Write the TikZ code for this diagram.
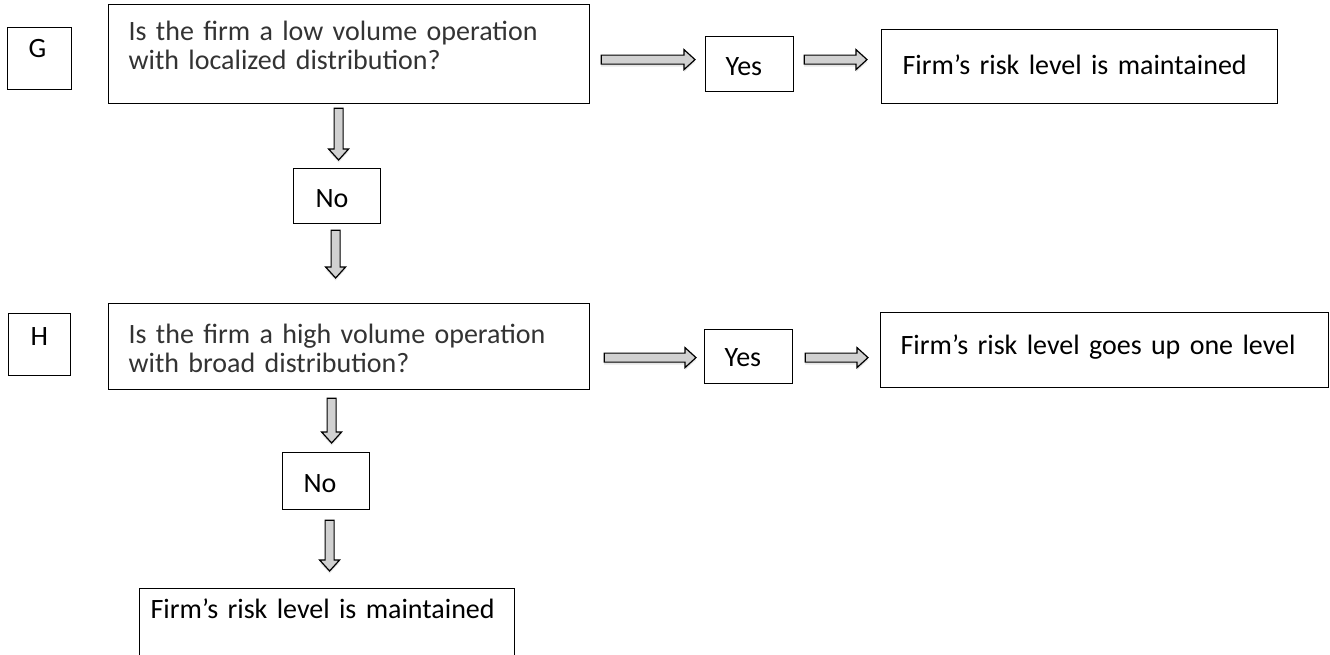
\documentclass[tikz,border=0pt]{standalone}
\usepackage{fontspec}
\setmainfont{Carlito}
\usetikzlibrary{calc,shadows}

\tikzset{
  box/.style={draw=black, line width=1.2pt, anchor=north west, align=left,
    inner ysep=0pt, font=\fontsize{28}{29}\selectfont},
  blockarrow/.style={draw=black, line width=1.2pt, fill=black!18,
    drop shadow={opacity=0.2, shadow xshift=0pt, shadow yshift=-2.5pt},
    to path={let \p1=(\tikztostart), \p2=(\tikztotarget),
      \n1={veclen(\x2-\x1,\y2-\y1)},
      \p3=({(\x2-\x1)/\n1},{(\y2-\y1)/\n1}),
      \n2={\n1-11} in
      ({\x1-4.5*\y3},{\y1+4.5*\x3})
      -- ({\x1+\n2*\x3-4.5*\y3},{\y1+\n2*\y3+4.5*\x3})
      -- ({\x1+\n2*\x3-10*\y3},{\y1+\n2*\y3+10*\x3})
      -- (\p2)
      -- ({\x1+\n2*\x3+10*\y3},{\y1+\n2*\y3-10*\x3})
      -- ({\x1+\n2*\x3+4.5*\y3},{\y1+\n2*\y3-4.5*\x3})
      -- ({\x1+4.5*\y3},{\y1-4.5*\x3}) -- cycle}}
}

\begin{document}
\begin{tikzpicture}[x=1pt, y=1pt]
    \useasboundingbox (0,0) rectangle (1330,-654);
    \clip (0,0) rectangle (1330,-654);

    % question G
    \node[box, text width=22pt, inner xsep=21pt, text height=30pt, text depth=32pt] (g) at (7,-27) {G};
    \node[box, text=black!80, text width=441pt, inner xsep=20pt, text height=36pt, text depth=63pt] (q1) at (108,-4) {Is the firm a low volume operation\\with localized distribution?};
    \node[box, text width=48pt, inner xsep=20pt, text height=39pt, text depth=16pt] (yes1) at (705,-36) {Yes};
    \node[box, text width=354pt, inner xsep=21pt, text height=45pt, text depth=29pt] (r1) at (881,-29) {\mbox{Firm’s risk level is maintained}};
    \node[box, text width=43pt, inner xsep=22pt, text height=39pt, text depth=16pt] (no1) at (293,-168) {No};

    % question H
    \node[box, text width=18pt, inner xsep=22pt, text height=32pt, text depth=30pt] (h) at (8,-313) {H};
    \node[box, text=black!80, text width=441pt, inner xsep=20pt, text height=40pt, text depth=46pt] (q2) at (108,-303) {Is the firm a high volume operation\\with broad distribution?};
    \node[box, text width=48pt, inner xsep=20pt, text height=37pt, text depth=17pt] (yes2) at (704,-329) {Yes};
    \node[box, text width=408pt, inner xsep=20pt, text height=42pt, text depth=33pt] (r2) at (880,-312) {\mbox{Firm’s risk level goes up one level}};
    \node[box, text width=45pt, inner xsep=21pt, text height=40pt, text depth=17pt] (no2) at (282,-452) {No};
    \node[box, text width=353pt, inner xsep=11pt, text height=30pt, text depth=100pt] (r3) at (139,-588) {\mbox{Firm’s risk level is maintained}};

    \draw[blockarrow] ($(q1.east |- yes1.west)+(11,4.5)$) to ($(yes1.west)+(-10,4.5)$);
    \draw[blockarrow] ($(yes1.east)+(10,4.5)$) to ($(r1.west |- yes1.east)+(-14,4.5)$);
    \draw[blockarrow] ($(no1.north |- q1.south)+(1.5,-4)$) to ($(no1.north)+(1.5,8)$);
    \draw[blockarrow] ($(no1.south)+(-1.5,-6)$) to ($(no1.south |- q2.north)+(-1.5,25)$);

    \draw[blockarrow] ($(q2.east |- yes2.west)+(14,-1)$) to ($(yes2.west)+(-8,-1)$);
    \draw[blockarrow] ($(yes2.east)+(12,-1)$) to ($(r2.west |- yes2.east)+(-12,-1)$);
    \draw[blockarrow] ($(no2.north |- q2.south)+(5.5,-8)$) to ($(no2.north)+(5.5,9)$);
    \draw[blockarrow] ($(no2.south)+(3.5,-10)$) to ($(no2.south |- r3.north)+(3.5,17)$);
\end{tikzpicture}
\end{document}
